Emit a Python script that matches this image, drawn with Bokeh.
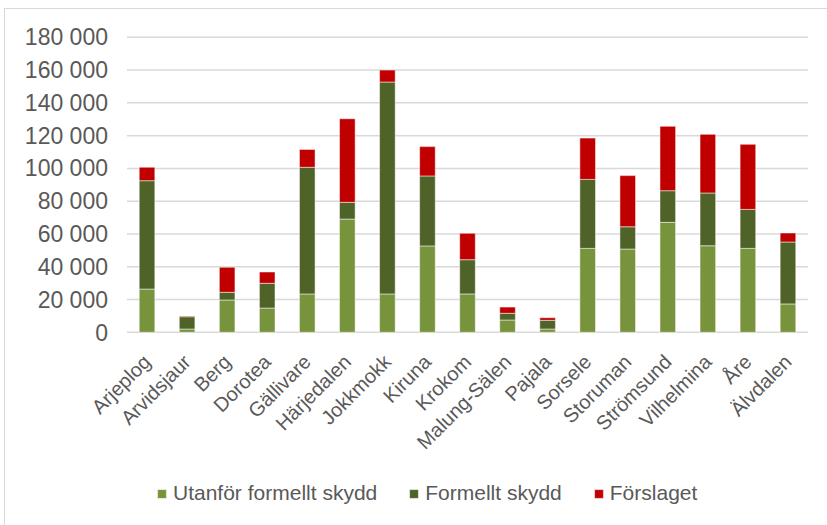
from bokeh.plotting import figure
from bokeh.models import FactorRange, Range1d, Legend, LegendItem, ColumnDataSource
from bokeh.core.properties import value
from bokeh.embed import file_html
from bokeh.resources import INLINE
import math

categories = ["Arjeplog", "Arvidsjaur", "Berg", "Dorotea", "Gällivare", "Härjedalen",
              "Jokkmokk", "Kiruna", "Krokom", "Malung-Sälen", "Pajala", "Sorsele",
              "Storuman", "Strömsund", "Vilhelmina", "Åre", "Älvdalen"]
utanfor = [26400, 2000, 19700, 14800, 23400, 69100, 23400, 52700, 23400, 7500,
           2000, 51200, 50800, 67100, 52800, 51200, 17300]
formellt = [66100, 7500, 4700, 15100, 77300, 10200, 129300, 42700, 20900, 4100,
            5300, 42100, 13600, 19300, 32200, 23800, 37800]
forslaget = [8200, 400, 15300, 6900, 10900, 51000, 7300, 17900, 16100, 3800,
             1600, 25200, 31200, 39300, 35800, 39700, 5500]
series_names = ["Utanför formellt skydd", "Formellt skydd", "Förslaget"]
series_keys = ["utanfor", "formellt", "forslaget"]
colors = ["#77933C", "#4F6228", "#C00000"]
y_ticks = [0, 20000, 40000, 60000, 80000, 100000, 120000, 140000, 160000, 180000]
y_tick_labels = ["0", "20 000", "40 000", "60 000", "80 000", "100 000",
                 "120 000", "140 000", "160 000", "180 000"]

n = len(categories)
source = ColumnDataSource(data=dict(cat=categories, utanfor=utanfor,
                                    formellt=formellt, forslaget=forslaget,
                                    base=[0] * n))
ticks_src = ColumnDataSource(data=dict(y=y_ticks, label=y_tick_labels,
                                       start=[0] * len(y_ticks),
                                       end=[n] * len(y_ticks)))

FONT = "Liberation Sans"
GRAY = "#595959"

# The plotting frame covers the whole chart box so that every text (tick labels,
# rotated category names, legend) lies inside it and nothing is clipped.
p = figure(x_range=FactorRange(*categories, range_padding=3.033,
                               range_padding_units="absolute"),
           y_range=Range1d(-117885, 196963),
           frame_width=924, frame_height=516,
           output_backend="svg", toolbar_location=None,
           min_border=0,
           styles={"margin-left": "4px", "margin-top": "8px",
                   "border": "1.5px solid #d9d9d9"})
p.outline_line_color = None
p.background_fill_color = "white"
p.border_fill_color = "white"
p.xaxis.visible = False
p.yaxis.visible = False
p.xgrid.visible = False
p.ygrid.visible = False

# horizontal gridlines spanning the category area
p.segment(x0="start", x1="end", y0="y", y1="y", source=ticks_src,
          line_color="#d9d9d9", line_width=1.5)

# y tick labels
p.text(x="start", y="y", text="label", source=ticks_src,
       text_align="right", text_baseline="middle", x_offset=-19,
       text_font=value(FONT), text_font_size="23px", text_color=GRAY)

renderers = p.vbar_stack(series_keys, x="cat", width=0.39, source=source,
                         color=colors, line_color="white", line_width=0.5)

# category labels, rotated 45 degrees below the zero line
p.text(x="cat", y="base", text="cat", source=source, angle=math.pi / 4,
       text_align="right", text_baseline="middle", x_offset=0, y_offset=26,
       text_font=value(FONT), text_font_size="20px", text_color=GRAY)

legend = Legend(items=[LegendItem(label=nm, renderers=[r]) for nm, r in zip(series_names, renderers)],
                orientation="horizontal", location=(151, 20),
                glyph_width=11, glyph_height=11, label_standoff=6, spacing=31,
                padding=0, margin=0, border_line_color=None, background_fill_alpha=0,
                label_text_font=FONT, label_text_font_size="21px", label_text_color=GRAY)
p.add_layout(legend, "center")

open("out.html", "w").write(file_html(p, INLINE))
